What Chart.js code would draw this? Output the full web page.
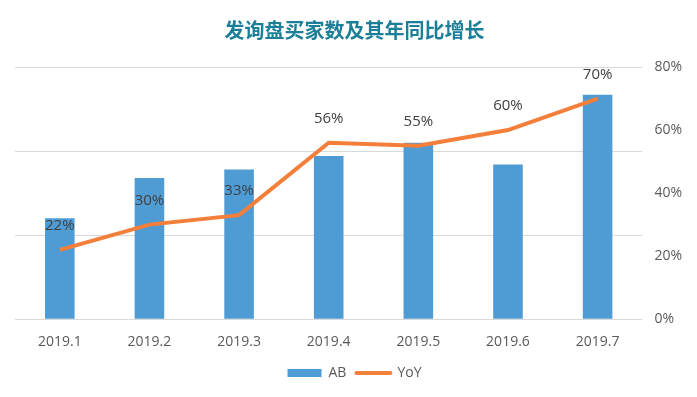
<!DOCTYPE html>
<html>
<head>
<meta charset="utf-8">
<script src="https://cdn.jsdelivr.net/npm/chart.js@4/dist/chart.umd.min.js"></script>
<style>
html,body{margin:0;padding:0;background:#fff;}
#wrap{width:697px;height:397px;}
</style>
</head>
<body>
<div id="wrap"><canvas id="c" width="697" height="397"></canvas></div>
<script>
const categories = ['2019.1','2019.2','2019.3','2019.4','2019.5','2019.6','2019.7'];
const abValues = [120, 168, 178, 194, 210, 184, 267];
const yoyValues = [22, 30, 33, 56, 55, 60, 70];
const rightTicks = [0, 20, 40, 60, 80];

const FONT = "'Open Sans', 'Noto Sans CJK SC', sans-serif";
const BLUE = '#4F9BD4';
const ORANGE = '#F47F3A';

const pointLabels = {
  id: 'pointLabels',
  afterDatasetsDraw(chart) {
    const ctx = chart.ctx;
    const meta = chart.getDatasetMeta(1);
    ctx.save();
    ctx.font = "15px " + FONT;
    ctx.fillStyle = '#404040';
    ctx.textAlign = 'center';
    ctx.textBaseline = 'middle';
    meta.data.forEach((pt, i) => {
      ctx.fillText(yoyValues[i] + '%', pt.x, pt.y - 24);
    });
    ctx.restore();
  }
};

new Chart(document.getElementById('c'), {
  type: 'bar',
  data: {
    labels: categories,
    datasets: [
      {
        label: 'AB',
        data: abValues,
        backgroundColor: BLUE,
        yAxisID: 'y',
        order: 2,
        categoryPercentage: 1,
        barPercentage: 0.33
      },
      {
        label: 'YoY',
        type: 'line',
        data: yoyValues,
        borderColor: ORANGE,
        backgroundColor: ORANGE,
        borderWidth: 4,
        pointRadius: 0,
        tension: 0,
        yAxisID: 'y1',
        order: 1
      }
    ]
  },
  options: {
    responsive: false,
    animation: false,
    layout: { padding: { left: 15, right: 3, top: 0, bottom: 7 } },
    plugins: {
      title: {
        display: true,
        text: '发询盘买家数及其年同比增长',
        color: '#1C7F99',
        font: { family: "'Noto Sans CJK SC', sans-serif", size: 20, weight: 'bold' },
        padding: { top: 18, bottom: 25 }
      },
      legend: {
        position: 'bottom',
        labels: {
          color: '#595959',
          font: { family: FONT, size: 14 },
          usePointStyle: true,
          pointStyleWidth: 34,
          boxHeight: 8,
          padding: 10,
          generateLabels() {
            return [
              { text: 'AB', fillStyle: BLUE, strokeStyle: BLUE, lineWidth: 0, pointStyle: 'rect', datasetIndex: 0, fontColor: '#595959' },
              { text: 'YoY', fillStyle: ORANGE, strokeStyle: ORANGE, lineWidth: 4, lineCap: 'round', pointStyle: 'line', datasetIndex: 1, fontColor: '#595959' }
            ];
          }
        }
      },
      tooltip: { enabled: false }
    },
    scales: {
      x: {
        grid: { display: false },
        border: { display: false },
        ticks: { color: '#595959', font: { family: FONT, size: 14 }, padding: 6 }
      },
      y: {
        position: 'left',
        min: 0,
        max: 300,
        ticks: { display: false, stepSize: 100 },
        grid: { color: '#D9D9D9', lineWidth: 1, drawTicks: false },
        border: { display: false }
      },
      y1: {
        position: 'right',
        min: 0,
        max: 80,
        afterBuildTicks(axis) { axis.ticks = rightTicks.map(v => ({ value: v })); },
        ticks: {
          color: '#595959',
          font: { family: FONT, size: 14 },
          padding: 12,
          callback: v => v + '%'
        },
        grid: { display: false, drawTicks: false },
        border: { display: false }
      }
    }
  },
  plugins: [pointLabels]
});
</script>
</body>
</html>
